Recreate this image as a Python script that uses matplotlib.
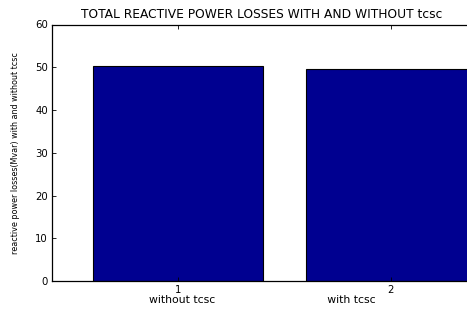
import matplotlib
matplotlib.use("Agg")
import matplotlib.pyplot as plt

categories = [1, 2]
losses = [50.2, 49.6]
yticks = [0, 10, 20, 30, 40, 50, 60]

plt.rcParams['font.family'] = ['DejaVu Sans']

fig = plt.figure(figsize=(4.67, 3.11), dpi=100)
ax = fig.add_axes([52/467, 30/311, 420/467, 256.5/311])

ax.bar(categories, losses, width=0.8, color='#000090', edgecolor='black', linewidth=0.8)
ax.set_xlim(0.407, 2.383)
ax.set_ylim(0, 60)
ax.set_yticks(yticks)
ax.set_xticks(categories)
ax.tick_params(axis='both', direction='in', length=3, width=0.6, labelsize=7.3, pad=3,
               top=True, right=False)
for s in ['left', 'bottom', 'top']:
    ax.spines[s].set_linewidth(0.9)
ax.spines['right'].set_visible(False)

ax.set_xlabel('without tcsc' + ' ' * 32 + 'with tcsc', fontsize=7.8, labelpad=0)
ax.set_ylabel('reactive power losses(Mvar) with and without tcsc', fontsize=5.8, labelpad=11)
ax.set_title('TOTAL REACTIVE POWER LOSSES WITH AND WITHOUT tcsc', fontsize=8.8, pad=5)

fig.savefig('out.png', dpi=100)
